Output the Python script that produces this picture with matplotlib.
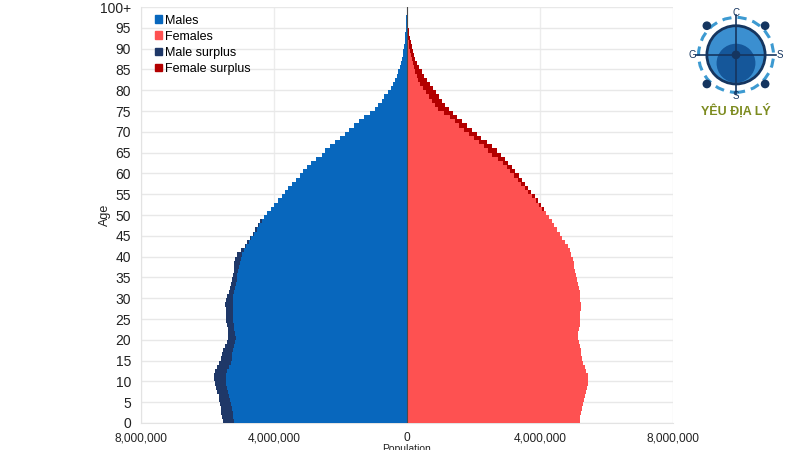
import numpy as np
import matplotlib.pyplot as plt
from matplotlib.patches import Patch, Circle

# population by single year of age (millions), ages 0..100+
ages = np.arange(0, 101)

males = [
    5.52, 5.55, 5.58, 5.60, 5.62, 5.64, 5.66, 5.70, 5.74, 5.78,
    5.80, 5.80, 5.76, 5.70, 5.64, 5.60, 5.56, 5.53, 5.48, 5.42,
    5.38, 5.37, 5.37, 5.40, 5.43, 5.44, 5.44, 5.45, 5.46, 5.44,
    5.40, 5.36, 5.33, 5.30, 5.26, 5.22, 5.20, 5.19, 5.20, 5.16,
    5.10, 4.98, 4.88, 4.80, 4.72, 4.64, 4.56, 4.48, 4.40, 4.30,
    4.19, 4.08, 3.98, 3.88, 3.76, 3.66, 3.56, 3.44, 3.33, 3.22,
    3.11, 3.00, 2.88, 2.74, 2.55, 2.45, 2.32, 2.16, 2.01, 1.87,
    1.73, 1.58, 1.44, 1.29, 1.12, 0.95, 0.86, 0.76, 0.68, 0.57,
    0.48, 0.41, 0.35, 0.30, 0.25, 0.21, 0.18, 0.15, 0.12, 0.10,
    0.08, 0.06, 0.05, 0.04, 0.03, 0.02, 0.015, 0.01, 0.007, 0.005,
    0.01,
]

females = [
    5.20, 5.22, 5.24, 5.27, 5.30, 5.33, 5.35, 5.38, 5.41, 5.44,
    5.45, 5.44, 5.40, 5.35, 5.30, 5.27, 5.25, 5.23, 5.20, 5.17,
    5.15, 5.16, 5.19, 5.21, 5.22, 5.22, 5.22, 5.23, 5.23, 5.22,
    5.22, 5.20, 5.17, 5.14, 5.12, 5.10, 5.07, 5.04, 5.02, 4.99,
    4.95, 4.90, 4.84, 4.76, 4.68, 4.60, 4.52, 4.44, 4.36, 4.28,
    4.20, 4.12, 4.03, 3.94, 3.85, 3.75, 3.65, 3.55, 3.46, 3.36,
    3.26, 3.16, 3.05, 2.95, 2.82, 2.70, 2.56, 2.40, 2.24, 2.10,
    1.96, 1.81, 1.66, 1.52, 1.40, 1.28, 1.16, 1.07, 0.98, 0.88,
    0.79, 0.70, 0.61, 0.53, 0.45, 0.38, 0.32, 0.26, 0.22, 0.19,
    0.15, 0.12, 0.10, 0.08, 0.06, 0.05, 0.04, 0.03, 0.02, 0.015,
    0.02,
]

x_ticks = [-8e6, -4e6, 0, 4e6, 8e6]
x_tick_labels = ["8,000,000", "4,000,000", "0", "4,000,000", "8,000,000"]
y_ticks = list(range(0, 101, 5))
y_tick_labels = [str(v) for v in range(0, 100, 5)] + ["100+"]

c_male = "#0867bd"
c_female = "#fe5151"
c_male_surplus = "#1f3868"
c_female_surplus = "#b30000"

m = np.array(males) * 1e6
f = np.array(females) * 1e6
common = np.minimum(m, f)
male_extra = np.clip(m - f, 0, None)
female_extra = np.clip(f - m, 0, None)

plt.rcParams["font.family"] = ["Liberation Sans", "DejaVu Sans"]

fig = plt.figure(figsize=(8, 4.5), dpi=100, facecolor="white")
ax = fig.add_axes([0.176, 0.06, 0.665, 0.9244])

ax.barh(ages, -common, height=1.0, align="edge", color=c_male, linewidth=0, zorder=3)
ax.barh(ages, -male_extra, left=-common, height=1.0, align="edge",
        color=c_male_surplus, linewidth=0, zorder=3)
ax.barh(ages, common, height=1.0, align="edge", color=c_female, linewidth=0, zorder=3)
ax.barh(ages, female_extra, left=common, height=1.0, align="edge",
        color=c_female_surplus, linewidth=0, zorder=3)
ax.axvline(0, color="#4a4a4a", linewidth=0.8, zorder=4)

ax.set_xlim(-8e6, 8e6)
ax.set_ylim(0, 100)
ax.set_xticks(x_ticks)
ax.set_xticklabels(x_tick_labels, fontsize=8.6, color="#222222")
ax.set_yticks(y_ticks)
ax.set_yticklabels(y_tick_labels, fontsize=10, color="#222222")
ax.tick_params(axis="y", length=0, pad=7)
ax.tick_params(axis="x", length=0, pad=6.5)

ax.grid(axis="y", color="#e8e8e8", linewidth=1.0, zorder=0)
ax.grid(axis="x", color="#ececec", linewidth=1.0, zorder=0)
for side in ["top", "right"]:
    ax.spines[side].set_visible(False)
ax.spines["left"].set_color("#e3e3e3")
ax.spines["bottom"].set_color("#e3e3e3")

ax.set_ylabel("Age", fontsize=9, color="#222222")
ax.yaxis.set_label_coords(-0.056, 0.5)
ax.set_xlabel("Population", fontsize=7.5, color="#222222")
ax.xaxis.set_label_coords(0.5, -0.05)

handles = [
    Patch(color=c_male, label="Males"),
    Patch(color=c_female, label="Females"),
    Patch(color=c_male_surplus, label="Male surplus"),
    Patch(color=c_female_surplus, label="Female surplus"),
]
ax.legend(handles=handles, loc="upper left", frameon=False, fontsize=9,
          handlelength=0.55, handleheight=0.55, handletextpad=0.3,
          labelspacing=0.33, borderaxespad=0.2, bbox_to_anchor=(0.012, 1.0))

# watermark logo, top right
lg = fig.add_axes([0.855, 0.72, 0.13, 0.27])
lg.set_xlim(0, 1)
lg.set_ylim(0, 1)
lg.set_aspect("equal")
lg.axis("off")
lg.add_patch(Circle((0.5, 0.6), 0.36, fill=False, edgecolor="#3d9ad1",
                    linewidth=2.2, linestyle=(0, (3, 2))))
lg.add_patch(Circle((0.5, 0.6), 0.28, color="#3b8fd0"))
lg.add_patch(Circle((0.5, 0.52), 0.18, color="#15579a"))
lg.add_patch(Circle((0.5, 0.6), 0.28, fill=False, edgecolor="#15355f", linewidth=2))
lg.plot([0.12, 0.88], [0.6, 0.6], color="#15355f", linewidth=1.2)
lg.plot([0.5, 0.5], [0.22, 0.98], color="#15355f", linewidth=1.2)
for px, py in [(0.22, 0.88), (0.78, 0.88), (0.22, 0.32), (0.78, 0.32), (0.5, 0.6)]:
    lg.add_patch(Circle((px, py), 0.035, color="#15355f"))
lg.text(0.5, 1.0, "C", ha="center", va="center", fontsize=7, color="#15355f")
lg.text(0.08, 0.6, "G", ha="center", va="center", fontsize=7, color="#15355f")
lg.text(0.92, 0.6, "S", ha="center", va="center", fontsize=7, color="#15355f")
lg.text(0.5, 0.2, "S", ha="center", va="center", fontsize=7, color="#15355f")
lg.text(0.5, 0.06, "YÊU ĐỊA LÝ", ha="center", va="center", fontsize=9,
        fontweight="bold", color="#7c8b1f")

fig.savefig("out.png", dpi=100, facecolor="white")
